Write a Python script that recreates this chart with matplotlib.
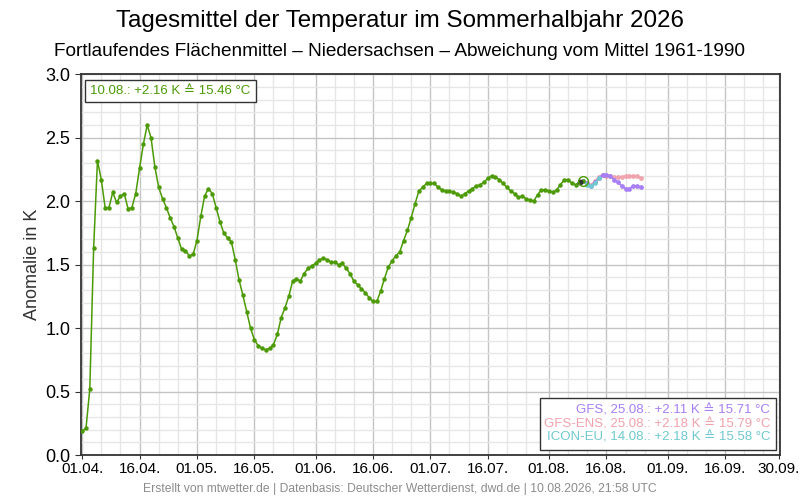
import numpy as np
import pandas as pd
import matplotlib
matplotlib.use('Agg')
from matplotlib import pyplot as plt
import matplotlib.dates as mdates
from matplotlib.patches import Rectangle

plt.rcParams['font.family'] = ['Liberation Sans', 'DejaVu Sans']

# observed running mean anomaly, 01.04. - 10.08.
start = '2026-04-01'
obs = [0.19, 0.21, 0.52, 1.63, 2.32, 2.17, 1.95, 1.95, 2.07, 1.99,
       2.04, 2.06, 1.94, 1.95, 2.06, 2.26, 2.45, 2.60, 2.50, 2.27,
       2.11, 2.02, 1.95, 1.87, 1.80, 1.71, 1.62, 1.61, 1.57, 1.58,
       1.69, 1.88, 2.04, 2.10, 2.06, 1.95, 1.84, 1.75, 1.71, 1.68,
       1.54, 1.38, 1.26, 1.13, 1.00, 0.91, 0.86, 0.84, 0.83, 0.84,
       0.87, 0.95, 1.08, 1.16, 1.25, 1.37, 1.39, 1.37, 1.43, 1.47,
       1.49, 1.51, 1.54, 1.55, 1.54, 1.52, 1.52, 1.50, 1.51, 1.47,
       1.43, 1.37, 1.34, 1.31, 1.28, 1.24, 1.21, 1.21, 1.29, 1.39,
       1.48, 1.53, 1.57, 1.60, 1.69, 1.77, 1.87, 1.98, 2.08, 2.11,
       2.14, 2.14, 2.14, 2.11, 2.09, 2.08, 2.08, 2.07, 2.06, 2.04,
       2.06, 2.08, 2.10, 2.12, 2.13, 2.15, 2.18, 2.20, 2.19, 2.17,
       2.14, 2.11, 2.08, 2.06, 2.03, 2.04, 2.02, 2.01, 2.00, 2.05,
       2.09, 2.09, 2.08, 2.07, 2.09, 2.13, 2.17, 2.17, 2.14, 2.13,
       2.15, 2.16]

# forecasts, all starting 10.08.
fc_start = '2026-08-10'
icon = [2.16, 2.13, 2.12, 2.14, 2.18]
gfs = [2.16, 2.14, 2.12, 2.15, 2.18, 2.21, 2.21, 2.20, 2.17, 2.15,
       2.12, 2.10, 2.10, 2.12, 2.12, 2.11]
gfs_ens = [2.16, 2.14, 2.13, 2.16, 2.19, 2.21, 2.20, 2.20, 2.19, 2.19,
           2.19, 2.20, 2.20, 2.20, 2.20, 2.18]

info_text = '10.08.: +2.16 K ≙ 15.46 °C'
legend_lines = ['GFS, 25.08.: +2.11 K ≙ 15.71 °C',
                'GFS-ENS, 25.08.: +2.18 K ≙ 15.79 °C',
                'ICON-EU, 14.08.: +2.18 K ≙ 15.58 °C']

green = '#4c9a06'
c_gfs = '#a77ff5'
c_ens = '#f0a3ad'
c_icon = '#6fc9cf'

obs_dates = pd.date_range(start, periods=len(obs), freq='D')
icon_dates = pd.date_range(fc_start, periods=len(icon), freq='D')
gfs_dates = pd.date_range(fc_start, periods=len(gfs), freq='D')
ens_dates = pd.date_range(fc_start, periods=len(gfs_ens), freq='D')

fig = plt.figure(figsize=(8, 5), dpi=100)
ax = fig.add_axes([0.1009, 0.09, 0.8741, 0.7614])

ax.plot(ens_dates, gfs_ens, color=c_ens, lw=1.2, marker='o', ms=2.4, zorder=3)
ax.plot(gfs_dates, gfs, color=c_gfs, lw=1.2, marker='o', ms=2.4, zorder=4)
ax.plot(icon_dates, icon, color=c_icon, lw=1.2, marker='o', ms=2.4, zorder=5)
ax.plot(obs_dates, obs, color=green, lw=1.1, marker='o', ms=2.2, zorder=6)
# last two points highlighted
ax.plot(obs_dates[-2], obs[-2], 'o', color='#333333', ms=3.2, zorder=7)
ax.plot(obs_dates[-1], obs[-1], 'o', mfc='none', mec=green, mew=1.0, ms=7, zorder=7)

# axis ranges and ticks
x0 = pd.Timestamp('2026-04-01') - pd.Timedelta(hours=9)
x1 = pd.Timestamp('2026-09-30') + pd.Timedelta(hours=9)
ax.set_xlim(x0, x1)
ax.set_ylim(0, 3)

major = pd.to_datetime(['2026-04-01', '2026-04-16', '2026-05-01', '2026-05-16',
                        '2026-06-01', '2026-06-16', '2026-07-01', '2026-07-16',
                        '2026-08-01', '2026-08-16', '2026-09-01', '2026-09-16',
                        '2026-09-30'])
all_days = pd.date_range('2026-04-01', '2026-09-30', freq='D')
minor = all_days[all_days.day.isin([6, 11, 21, 26])]
ax.set_xticks(major)
ax.set_xticks(minor, minor=True)
ax.xaxis.set_major_formatter(mdates.DateFormatter('%d.%m.'))
ax.set_yticks(np.arange(0, 3.01, 0.5))
ax.set_yticks(np.arange(0, 3.01, 0.1), minor=True)
ax.yaxis.set_major_formatter(matplotlib.ticker.FormatStrFormatter('%.1f'))

ax.grid(True, which='major', color='#c4c4c4', lw=1.0)
ax.grid(True, which='minor', color='#e6e6e6', lw=1.0)
ax.set_axisbelow(True)
ax.tick_params(axis='y', which='major', labelsize=13, length=4, color='#333333')
ax.tick_params(axis='x', which='major', labelsize=11, length=3, color='#333333', pad=2)
ax.tick_params(which='minor', length=0)
for s in ax.spines.values():
    s.set_color('#333333')
    s.set_linewidth(1.3)

ax.set_ylabel('Anomalie in K', fontsize=13, color='#333333', labelpad=3)

fig.text(0.5, 0.958, 'Tagesmittel der Temperatur im Sommerhalbjahr 2026',
         ha='center', va='center', fontsize=17.4)
fig.text(0.5, 0.897, 'Fortlaufendes Flächenmittel – Niedersachsen – Abweichung vom Mittel 1961-1990',
         ha='center', va='center', fontsize=13.7)
fig.text(0.5, 0.022, 'Erstellt von mtwetter.de | Datenbasis: Deutscher Wetterdienst, dwd.de | 10.08.2026, 21:58 UTC',
         ha='center', va='center', fontsize=8.7, color='#8c8c8c')

# info box top left
ax.text(0.0135, 0.956, info_text, transform=ax.transAxes, ha='left', va='center',
        fontsize=9.5, color=green, zorder=10,
        bbox=dict(boxstyle='square,pad=0.4', fc='white', ec='#333333', lw=1.0))

# forecast legend bottom right
ax.add_patch(Rectangle((0.657, 0.013), 0.337, 0.137, transform=ax.transAxes,
                       fc='white', ec='#333333', lw=1.0, zorder=10))
ys = [0.118, 0.081, 0.045]
cols = [c_gfs, c_ens, c_icon]
for txt, yy, cc in zip(legend_lines, ys, cols):
    ax.text(0.986, yy, txt, transform=ax.transAxes, ha='right', va='center',
            fontsize=9.5, color=cc, zorder=11)

fig.savefig('out.png', dpi=100)
